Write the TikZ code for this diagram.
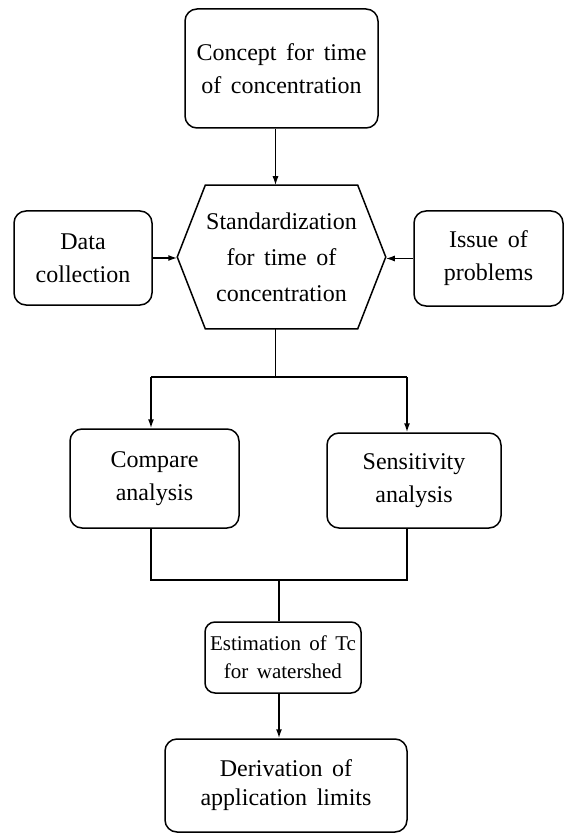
\documentclass[tikz,border=0pt]{standalone}
\usepackage{fontspec}
\setmainfont{Liberation Serif}[WordSpace=1.6]
\usetikzlibrary{arrows.meta,calc}
\begin{document}
\begin{tikzpicture}[x=1pt,y=-1pt, line width=1.5pt,
  box/.style={draw, rounded corners=12pt, align=center, inner sep=0pt,
    font=\fontsize{24}{33}\selectfont},
  hexnode/.style={align=center, inner sep=0pt, font=\fontsize{24}{36}\selectfont},
  arr/.style={-{Latex[length=9pt,width=6pt]}}]
\useasboundingbox (0,0) rectangle (565,834);

\node[box, minimum width=193pt, minimum height=119pt] (concept) at (281.5,68.5) {Concept for time\\of concentration};
\node[hexnode, minimum width=207pt, minimum height=142pt] (hex) at (281.5,257) {Standardization\\for time of\\concentration};
\draw ($(hex.north west)+(28,0)$) -- ($(hex.north east)+(-28,0)$) -- (hex.east)
  -- ($(hex.south east)+(-28,0)$) -- ($(hex.south west)+(28,0)$) -- (hex.west) -- cycle;
\node[box, minimum width=138pt, minimum height=94pt] (data) at (83,258) {Data\\collection};
\node[box, minimum width=149pt, minimum height=95pt] (issue) at (488.5,258.5) {Issue of\\problems};
\node[box, minimum width=169pt, minimum height=99pt] (cmp) at (154.5,478.5) {Compare\\analysis};
\node[box, minimum width=174pt, minimum height=95pt] (sens) at (414,480.5) {Sensitivity\\analysis};
\node[box, rounded corners=10pt, minimum width=156pt, minimum height=71pt,
  font=\fontsize{21}{28}\selectfont] (est) at (283,657.5) {Estimation of Tc\\for watershed};
\node[box, minimum width=242pt, minimum height=93pt,
  font=\fontsize{24}{29}\selectfont] (deriv) at (286,785.5) {Derivation of\\application limits};

\coordinate (jL) at (151,377);
\coordinate (jR) at (407,377);
\coordinate (mL) at (151,580);
\coordinate (mR) at (407,580);
\coordinate (mC) at (279,580);

\draw[arr] ([xshift=-6pt]concept.south) -- ([xshift=-6pt]concept.south |- hex.north);
\draw[arr] (data.east) -- (data.east -| hex.west);
\draw[arr] (issue.west) -- (issue.west -| hex.east);
\draw ([xshift=-6pt]hex.south) -- ([xshift=-6pt]hex.south |- jL);
\draw (jL) -- (jR);
\draw[arr] (jL) -- (jL |- cmp.north);
\draw[arr] (jR) -- (jR |- sens.north);
\draw (mL |- cmp.south) -- (mL) -- (mR) -- (mR |- sens.south);
\draw (mC) -- (mC |- est.north);
\draw[arr] (mC |- est.south) -- (mC |- deriv.north);
\end{tikzpicture}
\end{document}
